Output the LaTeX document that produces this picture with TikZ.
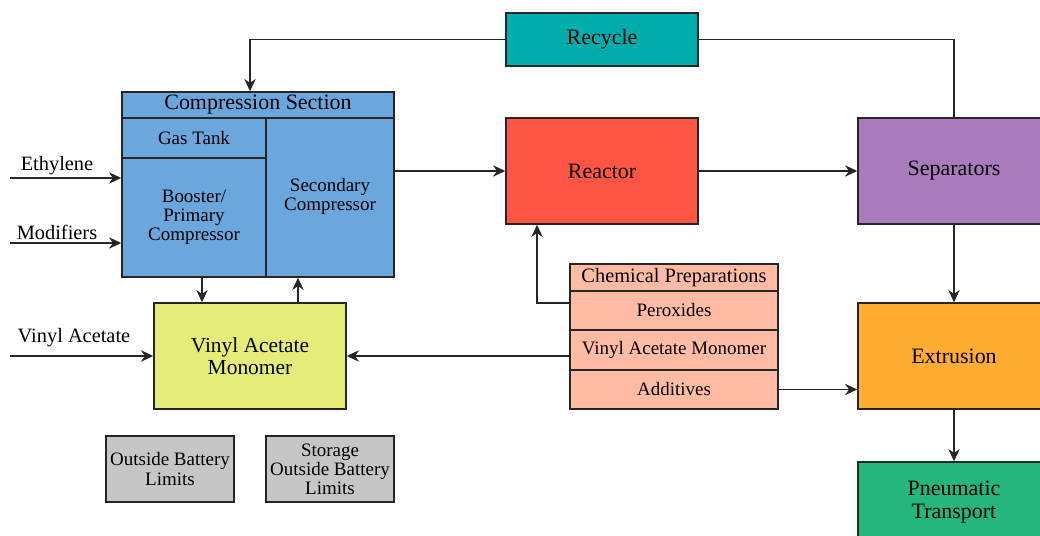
\documentclass[tikz,border=0pt]{standalone}
\usepackage{fontspec}
\setmainfont{Liberation Serif}
\usetikzlibrary{arrows.meta,calc}
\definecolor{cteal}{HTML}{00ADAD}
\definecolor{cblue}{HTML}{6BA6DD}
\definecolor{cred}{HTML}{FF5545}
\definecolor{cpurple}{HTML}{A97BBC}
\definecolor{corange}{HTML}{FFAC33}
\definecolor{cgreen}{HTML}{25B57E}
\definecolor{csalmon}{HTML}{FFBBA3}
\definecolor{cyellow}{HTML}{E5ED78}
\definecolor{cgray}{HTML}{C6C6C6}
\definecolor{cline}{HTML}{262626}
\newcommand\fbig{\fontsize{12.5pt}{12.9pt}\selectfont}
\newcommand\fmid{\fontsize{11.6pt}{11.8pt}\selectfont}
\newcommand\fsml{\fontsize{10.8pt}{10.9pt}\selectfont}
\newcommand\lowtext[2][-1.5pt]{\raisebox{#1}{\begin{tabular}{@{}c@{}}#2\end{tabular}}}
\begin{document}
\begin{tikzpicture}[x=0.02cm,y=-0.02cm,
  box/.style={draw=cline,line width=0.85pt,inner sep=0pt,align=center,text=black},
  lbl/.style={inner sep=0pt,align=center,font=\fmid},
  arr/.style={draw=cline,line width=0.75pt,-{Stealth[length=7pt,width=6.5pt]}},
  ln/.style={draw=cline,line width=0.75pt}]
\clip (0,0) rectangle (1040,536);
\useasboundingbox (0,0) rectangle (1040,536);
% top row
\node[box,fill=cteal,minimum width=3.84cm,minimum height=1.06cm,font=\fbig] (recycle) at (602,39.5) {\lowtext[-1pt]{Recycle}};
\node[box,fill=cred,minimum width=3.84cm,minimum height=2.12cm,font=\fbig] (reactor) at (602,171) {Reactor};
\node[box,fill=cpurple,minimum width=3.84cm,minimum height=2.12cm,font=\fbig] (sep) at (954,171) {\lowtext[-1pt]{Separators}};
\node[box,fill=corange,minimum width=3.84cm,minimum height=2.12cm,font=\fbig] (extr) at (954,356) {Extrusion};
\node[box,fill=cgreen,minimum width=3.84cm,minimum height=2.12cm] (pneu) at (954,515) {};
\node[lbl,font=\fbig] (pneut) at (954,502) {Pneumatic\\Transport};
% compression section
\node[box,fill=cblue,minimum width=5.44cm,minimum height=0.52cm,font=\fbig] (header) at (258,105) {Compression Section};
\node[box,fill=cblue,minimum width=2.88cm,minimum height=0.80cm,font=\fsml] (gas) at (194,138) {Gas Tank};
\node[box,fill=cblue,minimum width=2.88cm,minimum height=2.38cm,font=\fsml] (booster) at (194,217.5) {\lowtext{Booster/\\Primary\\Compressor}};
\node[box,fill=cblue,minimum width=2.56cm,minimum height=3.18cm,font=\fsml] (secondary) at (330,197.5) {\lowtext{Secondary\\Compressor}};
% VAM
\node[box,fill=cyellow,minimum width=3.84cm,minimum height=2.12cm,font=\fontsize{12.2pt}{12.6pt}\selectfont] (vam) at (250,356) {Vinyl Acetate\\Monomer};
% chemical preparations
\node[box,fill=csalmon,minimum width=4.16cm,minimum height=0.54cm,font=\fmid] (chemhead) at (674,277.5) {Chemical Preparations};
\node[box,fill=csalmon,minimum width=4.16cm,minimum height=0.78cm,font=\fsml] (perox) at (674,310.5) {Peroxides};
\node[box,fill=csalmon,minimum width=4.16cm,minimum height=0.80cm,font=\fsml] (chemvam) at (674,350) {Vinyl Acetate Monomer};
\node[box,fill=csalmon,minimum width=4.16cm,minimum height=0.78cm,font=\fsml] (addit) at (674,389.5) {Additives};
% outside battery limits
\node[box,fill=cgray,minimum width=2.56cm,minimum height=1.32cm,font=\fsml] (obl) at (170,469) {Outside Battery\\Limits};
\node[box,fill=cgray,minimum width=2.56cm,minimum height=1.32cm,font=\fsml] (sobl) at (330,469) {Storage\\Outside Battery\\Limits};
% input labels
\node[lbl] (ethl) at (57,166) {Ethylene};
\node[lbl] (modl) at (57,232) {Modifiers};
\node[lbl] (val) at (74,338) {Vinyl Acetate};
\coordinate (eth) at (10,178);
\coordinate (mod) at (10,243);
\coordinate (vain) at (10,356);
\coordinate (rc) at (250,39.5);
\coordinate (pc) at (537,303);
% connectors
\draw[arr] (eth) -- (eth -| booster.west);
\draw[arr] (mod) -- (mod -| booster.west);
\draw[arr] (vain) -- (vam.west);
\draw[arr] (recycle.west) -- (rc) -- (rc |- header.north);
\draw[ln] (recycle.east) -| (sep.north);
\draw[arr] (secondary.east |- reactor.west) -- (reactor.west);
\draw[arr] (reactor.east) -- (sep.west);
\draw[arr] (sep.south) -- (extr.north);
\draw[arr] (extr.south) -- (pneu.north);
\draw[arr] (pc -| perox.west) -- (pc) -- (pc |- reactor.south);
\draw[arr] (chemvam.west |- vam.east) -- (vam.east);
\draw[arr] (addit.east) -- (addit.east -| extr.west);
\draw[arr] ([xshift=0.16cm]booster.south) -- ([xshift=0.16cm]booster.south |- vam.north);
\draw[arr] ([xshift=-0.64cm]secondary.south |- vam.north) -- ([xshift=-0.64cm]secondary.south);
\end{tikzpicture}
\end{document}
